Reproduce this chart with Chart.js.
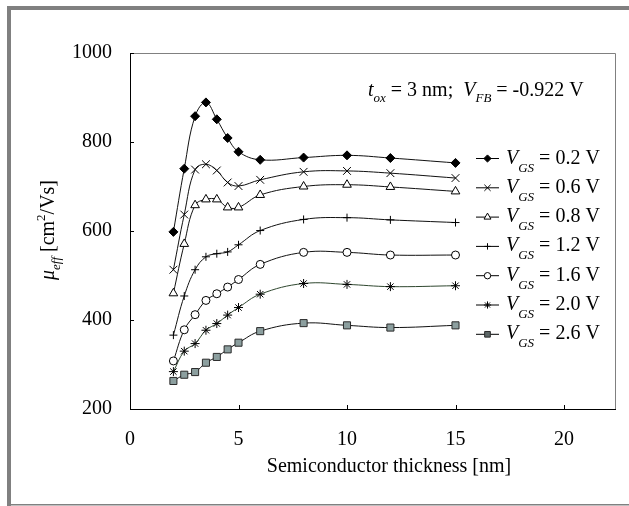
<!DOCTYPE html>
<html>
<head>
<meta charset="utf-8">
<script src="https://cdn.jsdelivr.net/npm/chart.js@4.4.0/dist/chart.umd.min.js"></script>
<style>
  html, body { margin: 0; padding: 0; background: #fff; }
  canvas { display: block; }
</style>
</head>
<body>
<canvas id="chart" width="629" height="506"></canvas>
<script>
// semiconductor thickness [nm]
const thickness = [2, 2.5, 3, 3.5, 4, 4.5, 5, 6, 8, 10, 12, 15];
const vgsLabels = ["0.2", "0.6", "0.8", "1.2", "1.6", "2.0", "2.6"];

// mobility [cm2/Vs], one array per gate voltage
const mu02 = [598, 740, 858, 889, 851, 809, 778, 760, 765, 770, 764, 753];
const mu06 = [513, 637, 738, 750, 736, 709, 701, 715, 733, 735, 730, 719];
const mu08 = [460, 571, 658, 671, 671, 653, 653, 681, 700, 704, 699, 689];
const mu12 = [366, 454, 513, 542, 549, 553, 569, 601, 626, 630, 625, 619];
const mu16 = [308, 378, 412, 444, 459, 474, 491, 525, 552, 552, 546, 546];
const mu20 = [284, 330, 347, 377, 392, 411, 428, 458, 482, 480, 475, 477];
const mu26 = [263, 277, 283, 304, 317, 334, 349, 375, 393, 388, 383, 388];

const xTicks = [0, 5, 10, 15, 20];
const yTicks = [200, 400, 600, 800, 1000];

const allSeries = [mu02, mu06, mu08, mu12, mu16, mu20, mu26];

const FONT = "'Liberation Serif', 'Times New Roman', serif";

const markers = [
  { pointStyle: "rectRot", radius: 4.5, bg: "#000", border: "#000", line: "#111" },
  { pointStyle: "crossRot", radius: 5.5, bg: "#000", border: "#000", line: "#111" },
  { pointStyle: "triangle", radius: 5, bg: "#fff", border: "#000", line: "#111" },
  { pointStyle: "cross", radius: 4, bg: "#000", border: "#000", line: "#111" },
  { pointStyle: "circle", radius: 4, bg: "#fff", border: "#000", line: "#111" },
  { pointStyle: "star", radius: 4.5, bg: "#000", border: "#000", line: "#2f472f" },
  { pointStyle: "rect", radius: 5, bg: "#8c9f9f", border: "#2a2a2a", line: "#111", legendBg: "#5c6666" }
];

const datasets = allSeries.map((vals, i) => ({
  label: "VGS = " + vgsLabels[i] + " V",
  data: thickness.map((x, j) => ({ x: x, y: vals[j] })),
  borderColor: markers[i].line,
  borderWidth: 1,
  tension: 0.4,
  pointStyle: markers[i].pointStyle,
  pointRadius: markers[i].radius,
  pointBackgroundColor: markers[i].bg,
  pointBorderColor: markers[i].border,
  pointBorderWidth: 1
}));

// draw text pieces: {t, italic, shift (sub > 0, sup < 0), small}
function richText(ctx, parts, x, y, size) {
  let cx = x;
  for (const p of parts) {
    const s = p.small ? Math.round(size * 0.65) : size;
    ctx.font = (p.italic ? "italic " : "") + s + "px " + FONT;
    ctx.fillText(p.t, cx, y + (p.shift || 0));
    cx += ctx.measureText(p.t).width;
  }
  return cx - x;
}
function richWidth(ctx, parts, size) {
  let w = 0;
  for (const p of parts) {
    const s = p.small ? Math.round(size * 0.65) : size;
    ctx.font = (p.italic ? "italic " : "") + s + "px " + FONT;
    w += ctx.measureText(p.t).width;
  }
  return w;
}

const decor = {
  id: "decor",
  beforeDraw(chart) {
    const ctx = chart.ctx;
    ctx.save();
    ctx.fillStyle = "#fff";
    ctx.fillRect(0, 0, chart.width, chart.height);
    ctx.fillStyle = "#808080";
    ctx.fillRect(7, 6, chart.width - 7, 4);
    ctx.fillRect(7, 6, 4, chart.height - 6);
    ctx.fillRect(7, 504, chart.width - 7, 1.5);
    ctx.restore();
  },
  afterDraw(chart) {
    const ctx = chart.ctx;
    const a = chart.chartArea;
    const xs = chart.scales.x, ys = chart.scales.y;
    ctx.save();
    // plot box
    ctx.lineWidth = 1;
    ctx.strokeStyle = "#808080";
    ctx.beginPath();
    ctx.moveTo(a.left, a.top + 0.5);
    ctx.lineTo(a.right + 0.5, a.top + 0.5);
    ctx.lineTo(a.right + 0.5, a.bottom);
    ctx.stroke();
    ctx.strokeStyle = "#000";
    ctx.beginPath();
    ctx.moveTo(a.left + 0.5, a.top);
    ctx.lineTo(a.left + 0.5, a.bottom + 0.5);
    ctx.lineTo(a.right + 1, a.bottom + 0.5);
    ctx.stroke();
    // inward ticks
    ctx.beginPath();
    for (const v of yTicks) {
      const py = Math.round(ys.getPixelForValue(v)) + 0.5;
      ctx.moveTo(a.left, py);
      ctx.lineTo(a.left + 4, py);
    }
    for (const v of xTicks) {
      const px = Math.round(xs.getPixelForValue(v)) + 0.5;
      ctx.moveTo(px, a.bottom);
      ctx.lineTo(px, a.bottom - 4);
    }
    ctx.stroke();

    ctx.fillStyle = "#000";
    ctx.textBaseline = "alphabetic";
    // x title
    ctx.font = "20px " + FONT;
    ctx.textAlign = "center";
    ctx.fillText("Semiconductor thickness [nm]", 389, 472);
    ctx.textAlign = "left";

    // y title (rotated)
    const yParts = [
      { t: "\u03bc", italic: true },
      { t: "eff", italic: true, small: true, shift: 6 },
      { t: " [cm" },
      { t: "2", small: true, shift: -9 },
      { t: "/Vs]" }
    ];
    ctx.save();
    ctx.translate(54, 230);
    ctx.rotate(-Math.PI / 2);
    const yw = richWidth(ctx, yParts, 20);
    richText(ctx, yParts, -yw / 2, 0, 20);
    ctx.restore();

    // annotation
    richText(ctx, [
      { t: "t", italic: true },
      { t: "ox", italic: true, small: true, shift: 6 },
      { t: " = 3 nm;  " },
      { t: "V", italic: true },
      { t: "FB", italic: true, small: true, shift: 6 },
      { t: " = -0.922 V" }
    ], 368, 96, 20);

    // legend
    datasets.forEach((ds, i) => {
      const m = markers[i];
      const y = 158.5 + i * 29.3;
      ctx.strokeStyle = "#000";
      ctx.lineWidth = 1;
      ctx.beginPath();
      ctx.moveTo(476, y);
      ctx.lineTo(499, y);
      ctx.stroke();
      ctx.fillStyle = m.legendBg || m.bg;
      ctx.strokeStyle = m.border;
      Chart.helpers.drawPoint(ctx, {
        pointStyle: m.pointStyle, radius: m.radius * 0.8, rotation: 0, borderWidth: 1
      }, 487.5, y);
      ctx.fillStyle = "#000";
      richText(ctx, [
        { t: "V", italic: true },
        { t: "GS", italic: true, small: true, shift: 8 },
        { t: " = " + vgsLabels[i] + " V" }
      ], 506, y + 5, 20);
    });
    ctx.restore();
  }
};

new Chart(document.getElementById("chart"), {
  type: "line",
  data: { datasets: datasets },
  plugins: [decor],
  options: {
    responsive: false,
    animation: false,
    layout: { padding: { left: 0, right: 14, top: 53, bottom: 0 } },
    plugins: { legend: { display: false }, tooltip: { enabled: false } },
    scales: {
      x: {
        type: "linear",
        min: 0,
        max: 22.35,
        afterFit: (s) => { s.height = 97; },
        grid: { display: false, drawTicks: false },
        border: { display: false },
        ticks: {
          stepSize: 5,
          includeBounds: false,
          padding: 19,
          color: "#000",
          font: { family: FONT, size: 20 },
          callback: (v) => String(v)
        }
      },
      y: {
        type: "linear",
        min: 200,
        max: 1000,
        afterFit: (s) => { s.width = 130; },
        grid: { display: false, drawTicks: false },
        border: { display: false },
        ticks: {
          stepSize: 200,
          padding: 18,
          color: "#000",
          font: { family: FONT, size: 20 },
          callback: (v) => String(v)
        }
      }
    }
  }
});
</script>
</body>
</html>
